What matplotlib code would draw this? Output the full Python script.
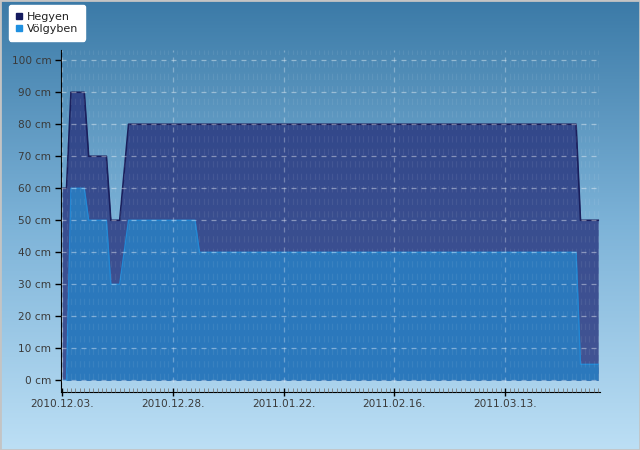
import numpy as np
import pandas as pd
import matplotlib.pyplot as plt
import matplotlib.dates as mdates
from matplotlib.lines import Line2D
from matplotlib.colors import LinearSegmentedColormap

# Adatok (hóvastagság, cm)
hegyen_dates = ['2010-12-03', '2010-12-04', '2010-12-05', '2010-12-08', '2010-12-09',
                '2010-12-13', '2010-12-14', '2010-12-16', '2010-12-18', '2011-03-29',
                '2011-03-30', '2011-04-03']
hegyen_cm = [60, 60, 90, 90, 70, 70, 50, 50, 80, 80, 50, 50]

volgy_dates = ['2010-12-03', '2010-12-04', '2010-12-05', '2010-12-08', '2010-12-09',
               '2010-12-13', '2010-12-14', '2010-12-16', '2010-12-18', '2011-01-02',
               '2011-01-03', '2011-03-29', '2011-03-30', '2011-04-03']
volgy_cm = [0, 0, 60, 60, 50, 50, 30, 30, 50, 50, 40, 40, 5, 5]

tick_dates = ['2010-12-03', '2010-12-28', '2011-01-22', '2011-02-16', '2011-03-13']
y_ticks = list(range(0, 101, 10))
series_names = ['Hegyen', 'Völgyben']

xh = mdates.date2num(pd.to_datetime(hegyen_dates))
xv = mdates.date2num(pd.to_datetime(volgy_dates))
xt = mdates.date2num(pd.to_datetime(tick_dates))

W, H = 640, 450
fig = plt.figure(figsize=(W / 100, H / 100), dpi=100)

# háttér színátmenet
bg = fig.add_axes([0, 0, 1, 1], zorder=-5)
grad = np.linspace(0, 1, 256).reshape(-1, 1)
cmap = LinearSegmentedColormap.from_list('bg', ['#3b7aa7', '#7db3d8', '#bcdff5'])
bg.imshow(grad, aspect='auto', cmap=cmap, extent=[0, 1, 0, 1])
bg.set_xlim(0, 1)
bg.set_ylim(0, 1)
for s in bg.spines.values():
    s.set_edgecolor('#c4c4c4')
    s.set_linewidth(2)
bg.set_xticks([])
bg.set_yticks([])

ax = fig.add_axes([61 / W, (H - 392) / H, (600 - 61) / W, (392 - 50) / H])
ax.set_facecolor('none')

ax.fill_between(xh, 0, hegyen_cm, color='#26317b', alpha=0.78, lw=0, zorder=1)
ax.plot(xh, hegyen_cm, color='#1a1f5c', lw=1.2, zorder=1.2)
ax.fill_between(xv, 0, volgy_cm, color='#2a7cc0', alpha=0.92, lw=0, zorder=1.5)
ax.plot(xv, volgy_cm, color='#2388d4', lw=1.0, zorder=1.6)

x0 = xt[0]
ax.set_xlim(x0 - 0.25, x0 + 121.4)
ax.set_ylim(-3.65, 103.2)

ax.set_yticks(y_ticks)
ax.set_yticklabels([f'{v} cm' for v in y_ticks])
ax.set_xticks(xt)
ax.set_xticklabels([pd.Timestamp(mdates.num2date(t)).strftime('%Y.%m.%d.') for t in xt])
ax.set_xticks(np.arange(x0, x0 + 122, 1), minor=True)

ax.tick_params(axis='both', which='major', labelsize=7.6, labelcolor='#3a3a3a',
               color='black', length=4, width=1)
ax.tick_params(axis='x', which='major', direction='inout', length=6, pad=2)
ax.tick_params(axis='x', which='minor', direction='in', length=3, color='#777777', width=0.6)
ax.tick_params(axis='y', which='major', pad=3)

ax.set_axisbelow(False)
ax.grid(axis='y', which='major', color='white', alpha=0.4, ls=(0, (4, 4)), lw=0.9)
ax.grid(axis='x', which='major', color='white', alpha=0.3, ls=(0, (4, 4)), lw=0.9)
ax.grid(axis='x', which='minor', color='white', alpha=0.07, ls=(0, (5, 5)), lw=0.9)

for s in ['top', 'right']:
    ax.spines[s].set_visible(False)
ax.spines['left'].set_color('black')
ax.spines['bottom'].set_color('black')

handles = [Line2D([], [], marker='s', ls='none', color='#141a5e', markersize=5),
           Line2D([], [], marker='s', ls='none', color='#1f90e0', markersize=5)]
leg = fig.legend(handles, series_names, loc='upper left',
                 bbox_to_anchor=(9 / W, 1 - 5 / H), fontsize=8,
                 frameon=True, fancybox=True, framealpha=1, facecolor='white',
                 edgecolor='white', handlelength=0.6, handletextpad=0.4,
                 borderpad=0.6, labelspacing=0.2, borderaxespad=0)
for t in leg.get_texts():
    t.set_color('#222222')

fig.savefig('out.png', dpi=100)
